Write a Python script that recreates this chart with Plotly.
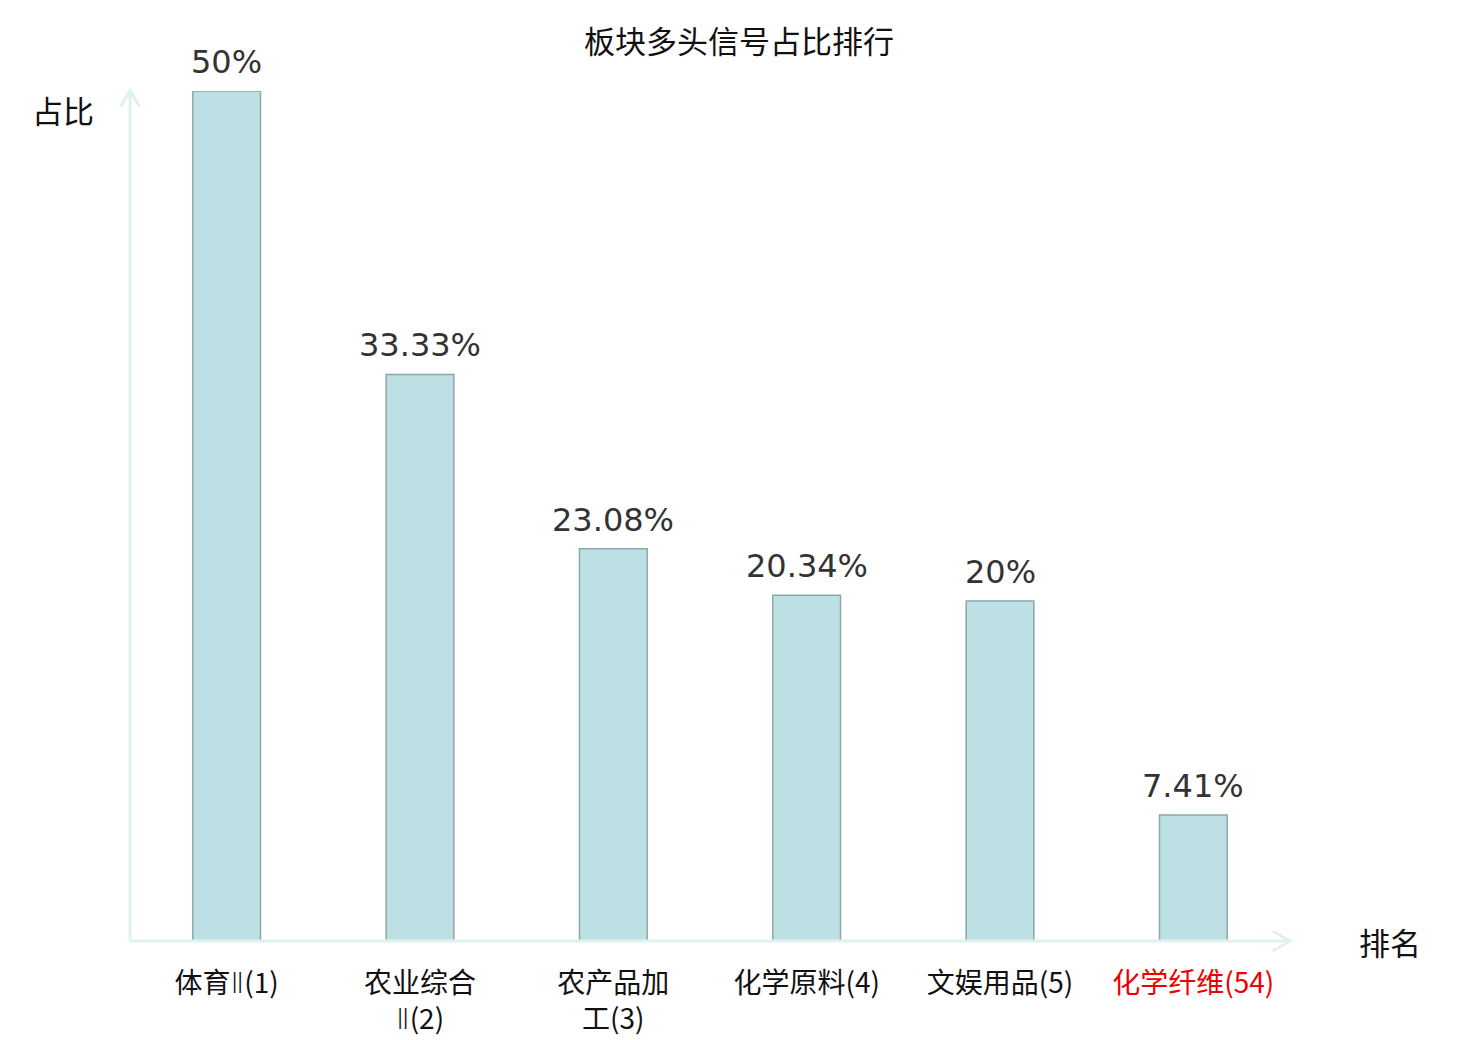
import plotly.graph_objects as go

categories = ["体育Ⅱ(1)", "农业综合<br>Ⅱ(2)", "农产品加<br>工(3)", "化学原料(4)", "文娱用品(5)", "化学纤维(54)"]
values = [50, 33.33, 23.08, 20.34, 20, 7.41]
value_labels = ["50%", "33.33%", "23.08%", "20.34%", "20%", "7.41%"]
highlight = [False, False, False, False, False, True]

num_font = "DejaVu Sans, Noto Sans CJK SC, sans-serif"
cjk_font = "Noto Sans CJK SC, DejaVu Sans, sans-serif"
axis_color = "#dff2ef"


def tick_label(name, red):
    name = name.replace("Ⅱ", '<span style="font-family:DejaVu Sans;font-weight:300">Ⅱ</span>')
    if red:
        return f'<span style="color:#ee0000">{name}</span>'
    return name


tick_text = [tick_label(c, h) for c, h in zip(categories, highlight)]
xs = list(range(len(categories)))

fig = go.Figure()
fig.add_trace(go.Bar(
    x=xs,
    y=values,
    width=0.35,
    marker=dict(color="#bce0e3", line=dict(color="#8ba7a9", width=1.5)),
    cliponaxis=False,
))

fig.update_xaxes(
    range=[-0.5, len(categories) - 0.5],
    tickmode="array",
    tickvals=xs,
    ticktext=tick_text,
    tickfont=dict(size=28, color="#111111", family=cjk_font),
    ticklabelstandoff=23,
    automargin=False,
    showgrid=False, zeroline=False, showline=False, ticks="",
)
fig.update_yaxes(
    range=[0, 50], showgrid=False, zeroline=False, showline=False,
    showticklabels=False, automargin=False,
)

# axis lines with open arrowheads
shapes = [
    dict(type="line", xref="paper", yref="paper", x0=0, y0=0, x1=1, y1=0,
         line=dict(color=axis_color, width=3)),
    dict(type="line", xref="paper", yref="paper", x0=0, y0=0, x1=0, y1=1,
         line=dict(color=axis_color, width=3)),
    dict(type="path", xref="paper", yref="paper",
         path="M 0.985,0.0118 L 1,0 L 0.985,-0.0118",
         line=dict(color=axis_color, width=3)),
    dict(type="path", xref="paper", yref="paper",
         path="M -0.008,0.982 L 0,1 L 0.008,0.982",
         line=dict(color=axis_color, width=3)),
]

annotations = [
    dict(x=x, y=v, text=t, xref="x", yref="y", showarrow=False,
         xanchor="center", yanchor="bottom", yshift=8,
         font=dict(size=32, color="#333333", family=num_font))
    for x, v, t in zip(xs, values, value_labels)
]
annotations += [
    dict(text="占比", xref="paper", yref="paper", x=-0.058, y=0.978,
         xanchor="center", yanchor="middle", showarrow=False,
         font=dict(size=31, color="#111111", family=cjk_font)),
    dict(text="排名", xref="paper", yref="paper", x=1.086, y=0.0,
         xanchor="center", yanchor="middle", showarrow=False,
         font=dict(size=31, color="#111111", family=cjk_font)),
]

fig.update_layout(
    width=1480, height=1040,
    margin=dict(l=122, r=198, t=83, b=107),
    plot_bgcolor="white", paper_bgcolor="white",
    showlegend=False,
    shapes=shapes,
    annotations=annotations,
    font=dict(family=cjk_font),
    title=dict(text="板块多头信号占比排行", x=0.494, xanchor="center", y=0.967, yanchor="middle",
               font=dict(size=31, color="#111111", family=cjk_font)),
)

fig.write_html("out.html")
